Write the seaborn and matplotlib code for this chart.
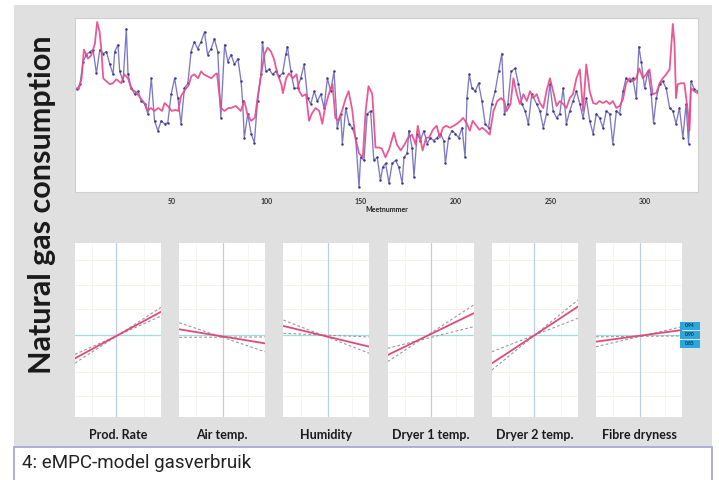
import matplotlib
matplotlib.use("Agg")
import matplotlib.pyplot as plt
from matplotlib.patches import Rectangle
import seaborn as sns

sns.set_theme(style="white")
plt.rcParams["font.family"] = ["Lato", "DejaVu Sans"]

# ---------------- data ----------------
# (sample number, relative gas consumption)
measured = [
    (0, 104), (1.6, 109), (3.3, 132), (5, 139), (6.8, 142), (8.6, 144), (10.3, 120), (12.1, 144),
    (13.8, 140), (15.6, 142), (17.4, 129), (19.1, 119), (20, 142), (21.7, 149), (22.6, 122),
    (24.4, 112), (26.1, 165), (27, 119), (28.8, 105), (30.5, 99), (32.3, 102), (34, 92), (35.8, 89),
    (37.5, 79), (39.3, 115), (41, 72), (42.8, 62), (44.5, 72), (46.3, 69), (48, 70), (49.8, 99),
    (51.6, 115), (53.3, 95), (55, 69), (56.8, 105), (58.6, 110), (60.3, 142), (62, 152), (63.8, 145),
    (65.6, 152), (67.4, 162), (69, 139), (70.9, 145), (72.6, 155), (74.4, 142), (76, 75),
    (78, 149), (79.7, 132), (81.4, 139), (83.2, 129), (85, 135), (86.7, 112), (87.5, 92), (88.4, 55),
    (90.2, 79), (92, 59), (93.7, 50), (95.4, 92), (97.2, 119), (98, 152), (99.8, 122), (101.6, 124),
    (103.3, 119), (105, 122), (106.8, 117), (108.6, 120), (110.4, 140), (111.2, 147), (113, 122),
    (114.7, 105), (116.5, 105), (118.2, 115), (120, 129), (121.8, 95), (123.5, 89), (125.3, 102),
    (127, 92), (128.8, 99), (130.5, 85), (132.3, 115), (134, 102), (135.8, 122), (137.5, 65),
    (139.3, 79), (140.2, 49), (142, 85), (143.7, 69), (145.4, 65), (147.2, 55), (149, 5), (149.8, 35),
    (151.6, 32), (153.3, 79), (155.1, 82), (156.8, 32), (158.6, 35),
    (160.3, 12), (161.5, 25), (163, 29), (164.8, 9), (166.5, 29), (168.3, 32), (170, 25), (171.8, 9),
    (172.7, 35), (174.4, 39), (175.3, 62), (177, 45), (178, 15), (179.7, 59), (181.4, 52), (183.2, 62),
    (185, 49), (186.7, 55), (188.4, 52), (190.2, 55), (192, 59), (193.7, 52), (194.6, 29), (196.3, 55),
    (198, 62), (199.8, 59), (201.6, 55), (203.4, 65), (205, 35), (206, 95), (207.2, 119), (208.6, 105),
    (210.4, 102), (212.1, 110), (213.9, 92), (215.6, 69), (217.4, 65), (219.1, 89), (220.9, 102),
    (222.7, 122), (224.4, 140), (225.8, 79), (227.6, 89), (229.3, 122), (231.4, 125), (233.2, 109),
    (235, 89), (236.7, 82), (238.4, 69), (240.2, 99),
    (242.8, 89), (244.5, 82), (246.3, 65), (248, 79), (249.8, 109), (251.5, 82), (253.3, 75),
    (255, 79), (256.8, 105), (258.5, 69), (260.3, 82), (262, 92), (263.8, 102), (265.6, 89),
    (267.3, 75), (269, 95), (270.8, 72), (272.6, 59), (274.3, 79), (276, 75), (277.8, 65), (279.6, 82),
    (281.4, 79), (283, 49), (284.9, 82), (286.6, 79), (288.4, 102), (290, 115), (291.9, 112),
    (293.6, 115), (295.4, 95), (296.8, 147), (298, 132), (299.8, 105), (301.5, 122), (303.3, 99),
    (304.5, 70), (306, 95), (307.7, 109), (309.4, 112), (311.2, 105), (313, 85), (314.7, 82),
    (316.4, 69), (318.2, 85), (320, 55), (321.7, 89), (323, 49), (324.3, 112), (326, 104), (327.8, 102),
]

model = [
    (0, 105), (1, 104), (2.5, 115), (3.7, 144), (5.8, 135), (7.5, 138), (9.5, 150), (10.7, 172),
    (12, 162), (13, 142), (13.9, 115), (15.6, 112), (17.4, 109), (19, 110), (20.8, 114), (23.5, 110),
    (25, 119), (27, 115), (28.8, 104), (30.5, 102), (32, 99), (34, 94), (36, 89), (37.4, 82), (39, 85),
    (41, 82), (43, 85), (45, 82), (46.3, 90), (48, 87), (50, 82), (52, 83), (53.5, 82), (55, 97),
    (57, 103), (59, 108), (60.4, 117), (62, 119), (64, 115), (65.6, 122), (67, 119), (69, 117),
    (71, 115), (73, 119), (74, 120), (76, 85), (78, 82), (80, 85),
    (81.4, 85), (84, 87), (86.5, 82), (88.4, 92), (90, 79), (92, 72), (94, 75), (95.4, 95), (97, 115),
    (99, 139), (100.7, 146), (102.5, 142), (104, 135), (106, 119), (108, 109), (108.8, 100),
    (110.5, 115), (112, 120), (114, 115), (116, 119), (117.4, 102), (119, 97), (121, 99), (122.6, 72),
    (124, 79), (126, 85), (128, 82), (129.6, 69), (131, 85), (133, 99), (135, 109), (136.5, 75),
    (138, 72), (140, 82), (142, 95), (143.5, 102), (145.5, 82), (147, 55), (149, 39), (151, 35),
    (152.5, 82), (154, 107), (156, 99), (157.7, 45),
    (159.5, 45), (161, 44), (163, 35), (165, 44), (167.4, 60), (169, 48), (171, 42), (173, 48),
    (175, 55), (177, 58), (178.9, 48), (180, 67), (182.6, 42), (184.4, 55), (186, 55), (188, 63),
    (190, 67), (191.6, 55), (193.3, 65), (195, 67), (197, 65), (199, 67), (200.7, 69), (202.5, 72),
    (204, 75), (206, 69), (207.5, 62), (209, 72), (211, 67), (212.6, 63), (214, 65), (216, 62),
    (218, 58), (220, 82), (222, 92), (224, 95), (225.6, 92), (227, 82), (229, 89), (230.5, 115),
    (232.3, 99), (234, 89), (235.8, 99), (237.6, 92), (239.3, 102),
    (241, 95), (242.8, 99), (244.5, 90), (246.3, 85), (248, 102), (249.8, 115), (251.5, 102),
    (253.3, 87), (255, 92), (256.8, 89), (258.5, 85), (260.3, 95), (262, 99), (263.8, 115),
    (265.6, 124), (267.3, 82), (269, 129), (270.8, 102), (272.6, 90), (274.3, 89), (276, 92),
    (277.8, 90), (279.6, 92), (281.4, 89), (283, 92), (284.9, 85), (286.6, 87), (288.4, 94),
    (290, 110), (291.9, 115), (293.6, 112), (295.4, 115), (297, 125), (298.9, 115), (300.6, 119),
    (302.4, 124), (304, 99), (306, 100), (307.7, 110), (309.4, 115), (311.2, 119), (313, 124),
    (314.7, 170), (315.6, 149), (316.4, 95), (317.3, 109), (319, 110), (320.8, 110), (322.6, 82),
    (323.5, 62), (324.3, 105), (326, 102), (327.8, 100),
]

x_ticks = [50, 100, 150, 200, 250, 300]
x_label = "Meetnummer"
y_title = "Natural gas consumption"

factors = ["Prod. Rate", "Air temp.", "Humidity", "Dryer 1 temp.", "Dryer 2 temp.", "Fibre dryness"]
# sensitivity lines: (value at left edge, value at right edge)
effect = [(0.337, 0.605), (0.504, 0.423), (0.523, 0.404), (0.356, 0.596), (0.308, 0.634), (0.433, 0.500)]
band_a = [(0.310, 0.630), (0.542, 0.375), (0.557, 0.366), (0.318, 0.644), (0.270, 0.672), (0.404, 0.519)]
band_b = [(0.360, 0.580), (0.458, 0.460), (0.481, 0.460), (0.395, 0.519), (0.375, 0.567), (0.461, 0.466)]
input_range = [0.0, 1.0]
mean_level = 0.47
mean_input = [0.476, 0.51, 0.52, 0.50, 0.49, 0.51]
badge_values = ["0.94", "0.90", "0.85"]

caption = "4: eMPC-model gasverbruik"

# ---------------- figure ----------------
W, H = 719, 480
fig = plt.figure(figsize=(W / 100, H / 100), dpi=100)
fig.patch.set_facecolor("white")

def fx(px):
    return px / W

def fy(py):
    return 1 - py / H

fig.patches.append(Rectangle((fx(14), fy(447)), fx(712) - fx(14), fy(5) - fy(447),
                             transform=fig.transFigure, facecolor="#e0e0e0",
                             edgecolor="none", zorder=-5))
fig.patches.append(Rectangle((fx(14), -0.02), fx(712) - fx(14), fy(447) + 0.02,
                             transform=fig.transFigure, facecolor="white",
                             edgecolor="#a9a8d8", linewidth=1.3, zorder=-5))

# top time-series plot
ax = fig.add_axes([fx(75), fy(192), fx(698) - fx(75), fy(18) - fy(192)])
ax.set_zorder(2)
ax.set_facecolor("white")
mx, my = zip(*measured)
rx, ry = zip(*model)
sns.lineplot(x=list(mx), y=list(my), ax=ax, color="#7c78c6", linewidth=0.95,
             marker="o", markersize=1.8, markeredgewidth=0, estimator=None, sort=False)
ax.lines[-1].set_markerfacecolor("#3f3a80")
sns.lineplot(x=list(rx), y=list(ry), ax=ax, color="#e6488a", linewidth=1.3,
             estimator=None, sort=False, alpha=0.9)
ax.set_xlim(-1, 328)
ax.set_ylim(0, 176)
ax.set_xticks(x_ticks)
ax.set_xticklabels([str(t) for t in x_ticks], fontsize=5, fontweight="bold", color="#222222")
ax.set_yticks([])
ax.tick_params(axis="x", length=2, width=0.5, pad=2, colors="#333333")
ax.set_xlabel(x_label, fontsize=5, fontweight="bold", labelpad=1, color="#222222")
ax.set_ylabel("")
for s in ax.spines.values():
    s.set_color("#cfcfcf")
    s.set_linewidth(0.8)

# sensitivity panels
for i, name in enumerate(factors):
    left = 75 + 104.2 * i
    pax = fig.add_axes([fx(left), fy(417), fx(86), fy(243) - fy(417)])
    pax.set_zorder(2)
    pax.set_facecolor("white")
    for gy in [0.12, 0.26, 0.62, 0.76, 0.9]:
        pax.axhline(gy, color="#f2f0e6", lw=0.6, zorder=0)
    for gx in [0.2, 0.8]:
        pax.axvline(gx, color="#f2f2f0", lw=0.6, zorder=0)
    pax.axvline(mean_input[i], color="#b9cfe1", lw=0.9, zorder=1)
    pax.axhline(mean_level, color="#a2dcdc", lw=0.9, zorder=1)
    sns.lineplot(x=input_range, y=list(band_a[i]), ax=pax, color="#999999",
                 linewidth=0.8, zorder=2)
    pax.lines[-1].set_dashes((2.5, 2))
    sns.lineplot(x=input_range, y=list(band_b[i]), ax=pax, color="#999999",
                 linewidth=0.8, zorder=2)
    pax.lines[-1].set_dashes((2.5, 2))
    sns.lineplot(x=input_range, y=list(effect[i]), ax=pax, color="#e04a7a",
                 linewidth=1.3, zorder=3)
    pax.set_xlim(0, 1)
    pax.set_ylim(0, 1)
    pax.set_xticks([])
    pax.set_yticks([])
    pax.set_xlabel("")
    pax.set_ylabel("")
    for s in pax.spines.values():
        s.set_visible(False)
    fig.text(fx(left + 43), fy(435), name, fontsize=9, fontweight="bold",
             ha="center", va="center", color="#1a1a1a")

# badges right of last panel
for j, val in enumerate(badge_values):
    top = 321.5 + 9.2 * j
    fig.patches.append(Rectangle((fx(680), fy(top + 8)), fx(20), fy(top) - fy(top + 8),
                                 transform=fig.transFigure, facecolor="#2aa7df",
                                 edgecolor="none", zorder=5))
    fig.text(fx(690), fy(top + 4), val, fontsize=3.5, fontweight="bold",
             ha="center", va="center", color="#0c3558", zorder=6)

fig.text(fx(42), fy(205), y_title, rotation=90, fontsize=22, fontweight="bold",
         ha="center", va="center", color="#1a1a1a")

fig.text(fx(22), fy(463), caption, fontsize=13.5, ha="left", va="center", color="#222222",
         family=["Roboto", "DejaVu Sans"])

fig.savefig("out.png", dpi=100)
